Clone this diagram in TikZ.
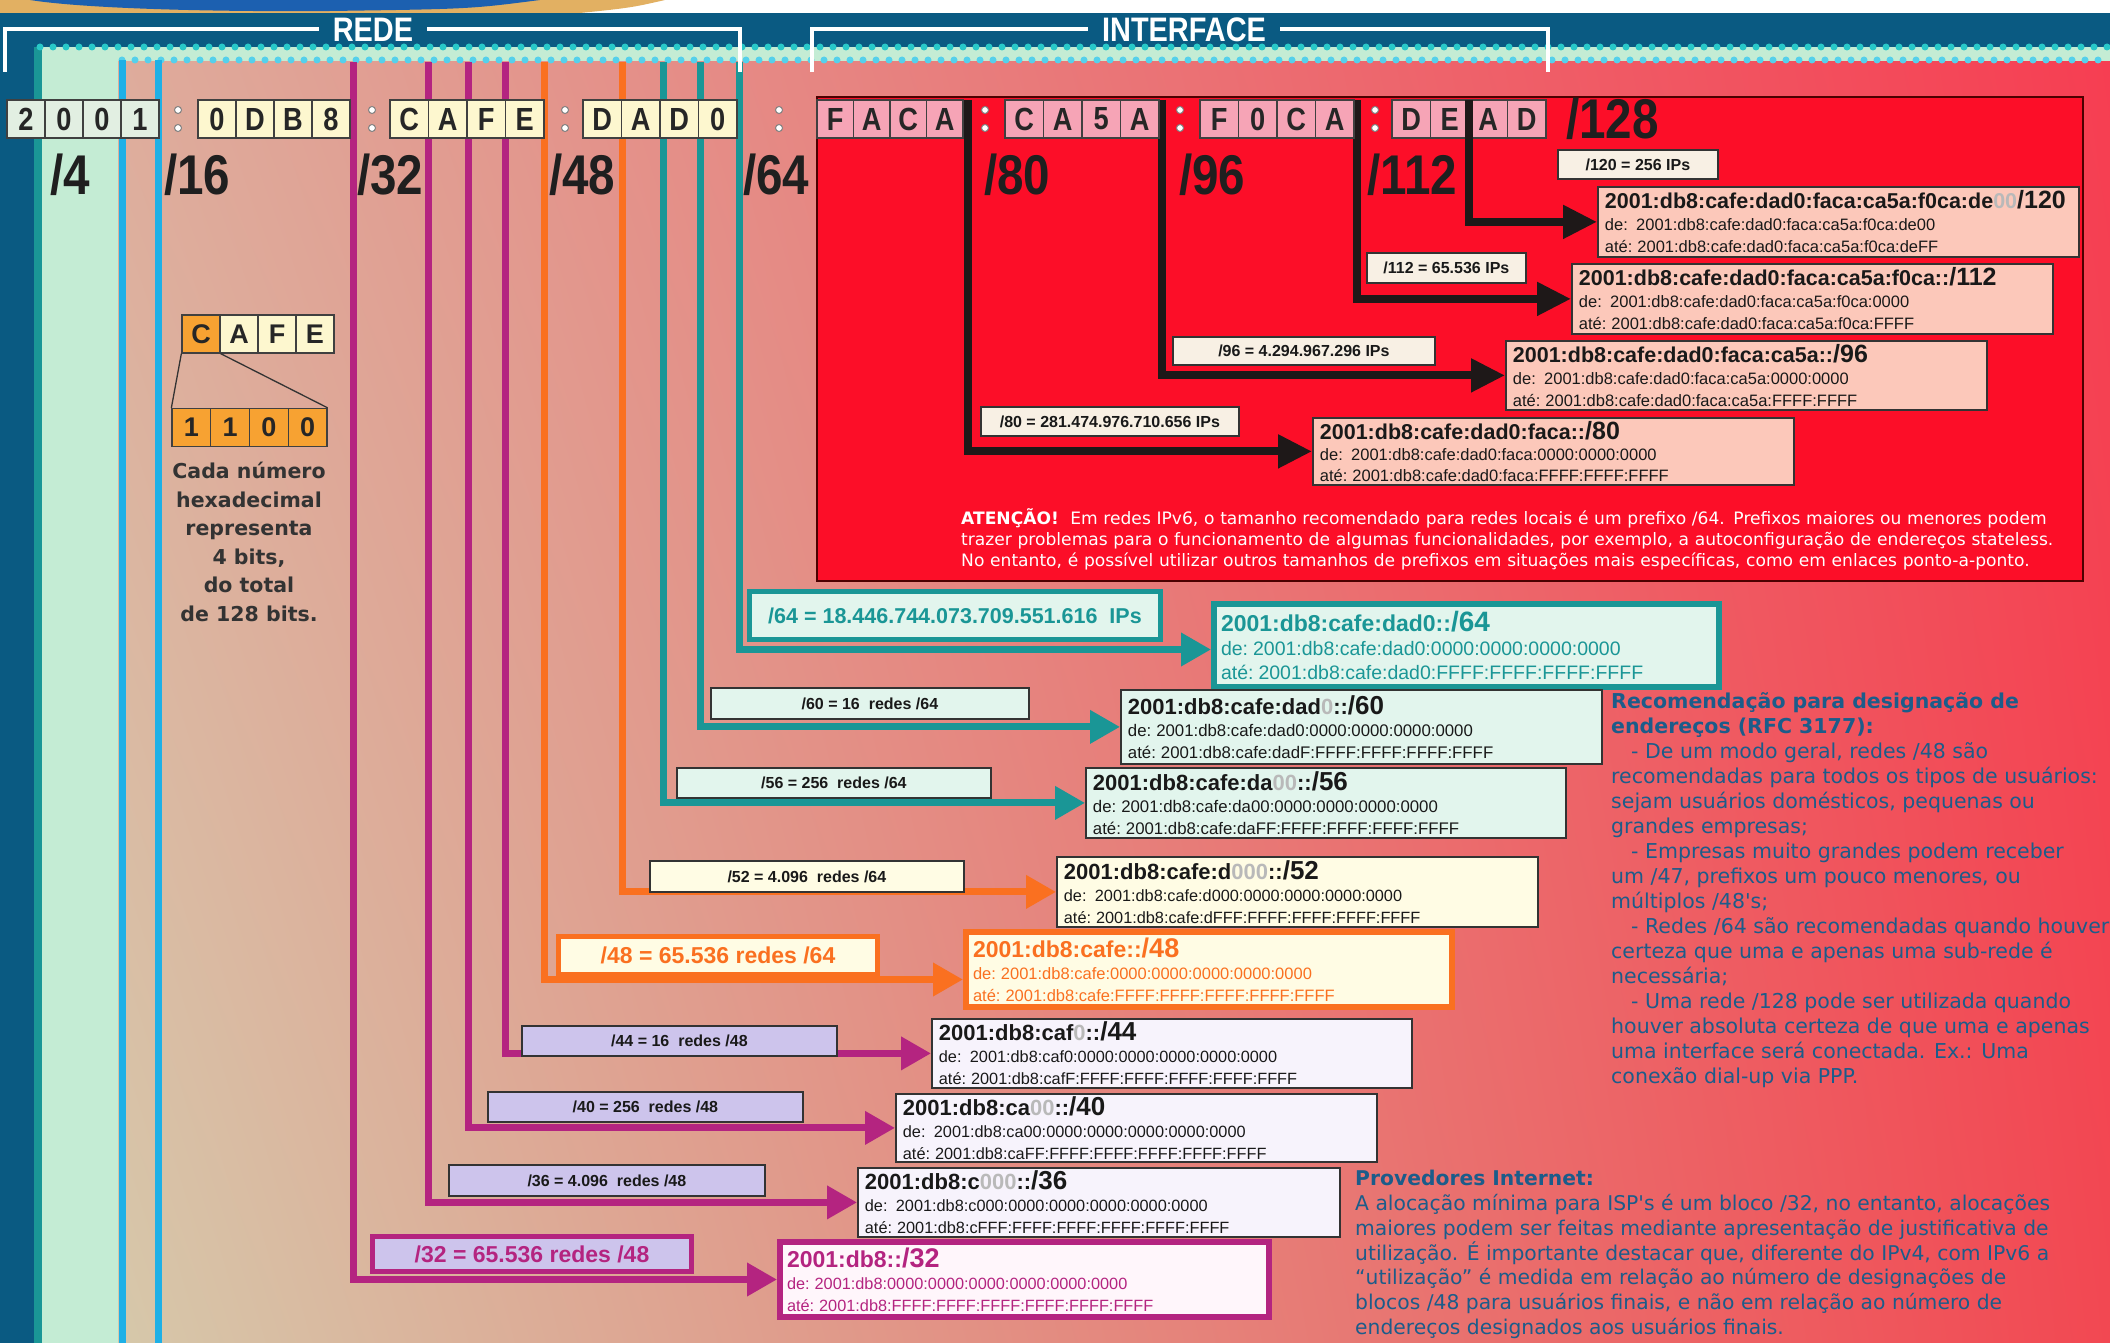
\documentclass[tikz,border=0pt]{standalone}
\usepackage{fontspec}
\setmainfont{Liberation Sans}
\newfontfamily\dv{DejaVu Sans}
\newfontfamily\cnd[FakeStretch=0.85]{Liberation Sans}
\usetikzlibrary{arrows.meta,shadings}
\pgfdeclarelayer{back}
\pgfdeclarelayer{lines}
\pgfsetlayers{back,lines,main}

\definecolor{navyc}{RGB}{10,90,130}
\definecolor{mintc}{RGB}{196,236,212}
\definecolor{dotA}{RGB}{40,200,200}
\definecolor{dotB}{RGB}{85,208,235}
\definecolor{tealE}{RGB}{26,150,150}
\definecolor{cyanc}{RGB}{30,176,230}
\definecolor{magc}{RGB}{180,36,128}
\definecolor{orgc}{RGB}{250,112,32}
\definecolor{tealc}{RGB}{26,150,150}
\definecolor{blkc}{RGB}{30,24,24}
\definecolor{redc}{RGB}{252,14,40}
\definecolor{cellm}{RGB}{226,239,226}
\definecolor{celly}{RGB}{253,247,207}
\definecolor{cellp}{RGB}{246,164,182}
\definecolor{cello}{RGB}{247,162,50}
\definecolor{salc}{RGB}{252,200,186}
\definecolor{creamc}{RGB}{248,240,228}
\definecolor{lgrn}{RGB}{226,245,237}
\definecolor{lyel}{RGB}{255,252,228}
\definecolor{lavc}{RGB}{205,196,236}
\definecolor{lavw}{RGB}{247,243,252}
\definecolor{pinkw}{RGB}{255,246,251}
\definecolor{txtb}{RGB}{28,92,138}
\definecolor{grayd}{RGB}{185,185,185}
\definecolor{tanc}{RGB}{226,176,98}
\definecolor{bluec}{RGB}{28,96,176}
\definecolor{gUL}{RGB}{222,172,156}
\definecolor{gLL}{RGB}{214,200,170}
\definecolor{gUR}{RGB}{246,62,82}
\definecolor{gLR}{RGB}{242,72,82}

\newcommand\gr[1]{\textcolor{grayd}{#1}}
% title size, suffix size, sub size, sub baselineskip, title, suffix, de, ate
\newcommand\Adr[8]{{\fontsize{#1}{#1}\selectfont\bfseries #5{\fontsize{#2}{#2}\selectfont #6}\par}{\fontsize{#3}{#4}\selectfont #7\par #8\par}}

\tikzset{
  hexc/.style={draw=black!75, line width=1.3pt, minimum height=38pt, inner sep=0pt,
    font=\cnd\bfseries\fontsize{32}{32}\selectfont, text=black!85},
  bigl/.style={anchor=west, inner sep=0pt, font=\cnd\bfseries\fontsize{56}{56}\selectfont, text=black!88},
  lab/.style={anchor=north west, draw=black!80, line width=1.8pt, inner sep=0pt,
    font=\bfseries\fontsize{16}{16}\selectfont, text=black!90},
  adr/.style={anchor=north west, draw=black!80, line width=1.8pt, inner xsep=7pt, inner ysep=0pt,
    align=left, text=black!90, execute at begin node={\setlength{\parindent}{0pt}}},
  conn/.style={line width=7pt, -{Triangle[length=30pt,width=32pt]}},
  bconn/.style={line width=8pt, blkc, -{Triangle[length=34pt,width=32pt]}},
  brk/.style={white, line width=4pt},
  dotline/.style={line width=7pt, line cap=round, dash pattern=on 0pt off 13pt},
}

\begin{document}
\begin{tikzpicture}[x=1pt,y=-1pt]
\useasboundingbox (0,0) rectangle (2110,1343);

\begin{pgfonlayer}{back}
  % top art
  \fill[white] (0,0) rectangle (2110,15);
  \fill[tanc] (0,0) -- (665,0) .. controls (630,8) .. (560,15) -- (0,15) -- cycle;
  \fill[bluec] (30,0) -- (540,0) .. controls (470,9) .. (330,11) .. controls (200,12) and (80,8) .. (30,0) -- cycle;
  % navy frame
  \fill[navyc] (0,13) rectangle (2110,1343);
  % mint band and strip
  \fill[mintc] (42,47) rectangle (2110,62);
  \fill[mintc] (42,47) rectangle (118,1343);
  % main gradient
  \shade[upper left=gUL, upper right=gUR, lower left=gLL, lower right=gLR] (118,62) rectangle (2110,1343);
  \draw[tealE, line width=8pt] (38,47) -- (38,1343);
  \draw[dotline, dotA] (40,47) -- (2110,47);
  \draw[dotline, dotB] (122,60) -- (2110,60);
  % red interface area
  \fill[redc] (817,97) rectangle (2083,581);
  \draw[black!70!red, line width=1.5pt] (817,97) rectangle (2083,581);
\end{pgfonlayer}

% brackets
\node[inner sep=0pt, text=white, font=\cnd\bfseries\fontsize{34}{34}\selectfont] (rede) at (373,30) {REDE};
\node[inner sep=0pt, text=white, font=\cnd\bfseries\fontsize{34}{34}\selectfont] (intf) at (1184,30) {INTERFACE};
\draw[brk] ([xshift=-14pt]rede.west |- 0,29) -- (5,29) -- (5,72);
\draw[brk] ([xshift=14pt]rede.east |- 0,29) -- (740,29) -- (740,72);
\draw[brk] ([xshift=-14pt]intf.west |- 0,29) -- (812,29) -- (812,72);
\draw[brk] ([xshift=14pt]intf.east |- 0,29) -- (1548,29) -- (1548,72);

% hex cells
\foreach \g/\x/\w/\fc/\chars in {1/7/38/cellm/{2,0,0,1}, 2/198/38/celly/{0,D,B,8},
   3/390/38.5/celly/{C,A,F,E}, 4/583/38.5/celly/{D,A,D,0}, 5/817/36.5/cellp/{F,A,C,A},
   6/1005/38.5/cellp/{C,A,5,A}, 7/1200/38.5/cellp/{F,0,C,A}, 8/1392/38.5/cellp/{D,E,A,D}}{
  \foreach \c [count=\i from 0] in \chars {
    \node[hexc, fill=\fc, minimum width=\w pt] (h\g\i) at ({\x+\w*\i+\w/2},119) {\c};
  }
}
\foreach \x in {178,372,565,779,985,1180,1375}{
  \filldraw[fill=white, draw=black!50, line width=1pt] (\x,110) circle (3.5pt) (\x,128) circle (3.5pt);
}

% big prefix labels
\node[bigl] (p4) at (50,175) {/4};
\node[bigl] (p16) at (164,175) {/16};
\node[bigl] (p32) at (357,175) {/32};
\node[bigl] (p48) at (549,175) {/48};
\node[bigl] (p64) at (743,175) {/64};
\node[bigl] (p80) at (984,175) {/80};
\node[bigl] (p96) at (1179,175) {/96};
\node[bigl] (p112) at (1367,175) {/112};
\node[bigl, font=\cnd\bfseries\fontsize{56}{56}\selectfont] (p128) at (1566,119) {/128};

% CAFE explanation
\foreach \c [count=\i from 0] in {C,A,F,E}{
  \node[hexc, font=\bfseries\fontsize{27}{27}\selectfont, minimum width=38pt, fill=celly] (cf\i) at ({182+38*\i+19},334) {\c};
}
\node[hexc, font=\bfseries\fontsize{27}{27}\selectfont, minimum width=38pt, fill=cello] (cfC) at (201,334) {C};
\foreach \c [count=\i from 0] in {1,1,0,0}{
  \node[hexc, font=\bfseries\fontsize{27}{27}\selectfont, minimum width=38.75pt, fill=cello] (bt\i) at ({172+38.75*\i+19.4},427.5) {\c};
}
\draw[line width=1.3pt, black!80] (cfC.south west) -- (bt0.north west);
\draw[line width=1.3pt, black!80] (cfC.south east) -- (bt3.north east);
\node[anchor=north, inner sep=0pt, align=center, text=black!80, font=\dv\bfseries\fontsize{20.5}{28.5}\selectfont] (cada) at (249,462)
  {Cada número\\hexadecimal\\representa\\4 bits,\\do total\\de 128 bits.};

% labels in red area
\node[lab, fill=creamc, minimum width=160pt, minimum height=29pt] (l120) at (1557,149) {/120 = 256 IPs};
\node[lab, fill=creamc, minimum width=159pt, minimum height=30pt] (l112) at (1366,252) {/112 = 65.536 IPs};
\node[lab, fill=creamc, minimum width=262pt, minimum height=28pt] (l96) at (1172,336) {/96 = 4.294.967.296 IPs};
\node[lab, fill=creamc, minimum width=258pt, minimum height=29pt] (l80) at (980,406) {/80 = 281.474.976.710.656 IPs};

% address boxes in red area
\node[adr, fill=salc, text width=467pt, minimum height=70pt] (b120) at (1597,186)
 {\Adr{21.5}{25}{16.5}{22}{2001:db8:cafe:dad0:faca:ca5a:f0ca:de\gr{00}}{/120}{de:~ 2001:db8:cafe:dad0:faca:ca5a:f0ca:de00}{até: 2001:db8:cafe:dad0:faca:ca5a:f0ca:deFF}};
\node[adr, fill=salc, text width=467pt, minimum height=70pt] (b112) at (1571,263)
 {\Adr{21.5}{25}{16.5}{22}{2001:db8:cafe:dad0:faca:ca5a:f0ca::}{/112}{de:~ 2001:db8:cafe:dad0:faca:ca5a:f0ca:0000}{até: 2001:db8:cafe:dad0:faca:ca5a:f0ca:FFFF}};
\node[adr, fill=salc, text width=467pt, minimum height=69pt] (b96) at (1505,340)
 {\Adr{21.5}{25}{16.5}{22}{2001:db8:cafe:dad0:faca:ca5a::}{/96}{de:~ 2001:db8:cafe:dad0:faca:ca5a:0000:0000}{até: 2001:db8:cafe:dad0:faca:ca5a:FFFF:FFFF}};
\node[adr, fill=salc, text width=467pt, minimum height=67pt] (b80) at (1312,417)
 {\Adr{21.5}{25}{16.5}{21}{2001:db8:cafe:dad0:faca::}{/80}{de:~ 2001:db8:cafe:dad0:faca:0000:0000:0000}{até: 2001:db8:cafe:dad0:faca:FFFF:FFFF:FFFF}};

\node[anchor=north west, inner sep=0pt, text=white, text width=1115pt, font=\dv\fontsize{17.1}{21}\selectfont,
      execute at begin node={\setlength{\parindent}{0pt}}] (aten) at (961,508)
 {\makebox[1115pt][s]{\textbf{ATENÇÃO!}\ \ Em redes IPv6, o tamanho recomendado para redes locais é um prefixo /64. Prefixos maiores ou menores podem}\par
  \makebox[1115pt][s]{trazer problemas para o funcionamento de algumas funcionalidades, por exemplo, a autoconfiguração de endereços stateless.}\par
  No entanto, é possível utilizar outros tamanhos de prefixos em situações mais específicas, como em enlaces ponto-a-ponto.\par};

% lower labels
\node[lab, fill=lgrn, draw=tealc, line width=5pt, text=tealc, font=\bfseries\fontsize{21.5}{21.5}\selectfont, minimum width=411pt, minimum height=48pt] (l64) at (747,589) {/64 = 18.446.744.073.709.551.616~ IPs};
\node[lab, fill=lgrn, minimum width=318pt, minimum height=31pt] (l60) at (710,687) {/60 = 16~ redes /64};
\node[lab, fill=lgrn, minimum width=314pt, minimum height=30pt] (l56) at (676,767) {/56 = 256~ redes /64};
\node[lab, fill=lyel, minimum width=314pt, minimum height=31pt] (l52) at (649,860) {/52 = 4.096~ redes /64};
\node[lab, fill=lyel, draw=orgc, line width=5pt, text=orgc, font=\bfseries\fontsize{23}{23}\selectfont, minimum width=319pt, minimum height=38pt] (l48) at (556,934) {/48 = 65.536 redes /64};
\node[lab, fill=lavc, minimum width=315pt, minimum height=30pt] (l44) at (521,1025) {/44 = 16~ redes /48};
\node[lab, fill=lavc, minimum width=315pt, minimum height=30pt] (l40) at (487,1091) {/40 = 256~ redes /48};
\node[lab, fill=lavc, minimum width=316pt, minimum height=31pt] (l36) at (448,1164) {/36 = 4.096~ redes /48};
\node[lab, fill=lavc, draw=magc, line width=5pt, text=magc, font=\bfseries\fontsize{23}{23}\selectfont, minimum width=319pt, minimum height=35pt] (l32) at (370,1234) {/32 = 65.536 redes /48};

% lower address boxes
\node[adr, fill=lgrn, draw=tealc, line width=6pt, text=tealc, text width=491pt, minimum height=83pt] (b64) at (1211,601)
 {\Adr{23}{28}{19.5}{24}{2001:db8:cafe:dad0::}{/64}{de: 2001:db8:cafe:dad0:0000:0000:0000:0000}{até: 2001:db8:cafe:dad0:FFFF:FFFF:FFFF:FFFF}};
\node[adr, fill=lgrn, text width=467pt, minimum height=74pt] (b60) at (1120,689)
 {\Adr{22}{26}{16.8}{22}{2001:db8:cafe:dad\gr{0}::}{/60}{de: 2001:db8:cafe:dad0:0000:0000:0000:0000}{até: 2001:db8:cafe:dadF:FFFF:FFFF:FFFF:FFFF}};
\node[adr, fill=lgrn, text width=466pt, minimum height=70pt] (b56) at (1085,767)
 {\Adr{22}{26}{16.8}{22}{2001:db8:cafe:da\gr{00}::}{/56}{de: 2001:db8:cafe:da00:0000:0000:0000:0000}{até: 2001:db8:cafe:daFF:FFFF:FFFF:FFFF:FFFF}};
\node[adr, fill=lyel, text width=467pt, minimum height=70pt] (b52) at (1056,856)
 {\Adr{22}{26}{16.3}{22}{2001:db8:cafe:d\gr{000}::}{/52}{de:~ 2001:db8:cafe:d000:0000:0000:0000:0000}{até: 2001:db8:cafe:dFFF:FFFF:FFFF:FFFF:FFFF}};
\node[adr, fill=lyel, draw=orgc, line width=6pt, text=orgc, text width=472pt, minimum height=75pt] (b48) at (963,929)
 {\Adr{23}{27}{16.5}{22}{2001:db8:cafe::}{/48}{de: 2001:db8:cafe:0000:0000:0000:0000:0000}{até: 2001:db8:cafe:FFFF:FFFF:FFFF:FFFF:FFFF}};
\node[adr, fill=lavw, text width=466pt, minimum height=69pt] (b44) at (931,1018)
 {\Adr{22}{26}{16.3}{22}{2001:db8:caf\gr{0}::}{/44}{de:~ 2001:db8:caf0:0000:0000:0000:0000:0000}{até: 2001:db8:cafF:FFFF:FFFF:FFFF:FFFF:FFFF}};
\node[adr, fill=lavw, text width=467pt, minimum height=68pt] (b40) at (895,1093)
 {\Adr{22}{26}{16.3}{22}{2001:db8:ca\gr{00}::}{/40}{de:~ 2001:db8:ca00:0000:0000:0000:0000:0000}{até: 2001:db8:caFF:FFFF:FFFF:FFFF:FFFF:FFFF}};
\node[adr, fill=lavw, text width=468pt, minimum height=69pt] (b36) at (857,1167)
 {\Adr{22}{26}{16.3}{22}{2001:db8:c\gr{000}::}{/36}{de:~ 2001:db8:c000:0000:0000:0000:0000:0000}{até: 2001:db8:cFFF:FFFF:FFFF:FFFF:FFFF:FFFF}};
\node[adr, fill=pinkw, draw=magc, line width=6pt, text=magc, text width=475pt, minimum height=75pt] (b32) at (777,1239)
 {\Adr{23}{27}{16.3}{22}{2001:db8::}{/32}{de: 2001:db8:0000:0000:0000:0000:0000:0000}{até: 2001:db8:FFFF:FFFF:FFFF:FFFF:FFFF:FFFF}};

% right column texts
\node[anchor=north west, inner sep=0pt, text=txtb, align=left, font=\dv\fontsize{20.5}{25}\selectfont] (rec) at (1611,692)
 {{\bfseries Recomendação para designação de}\\
  {\bfseries endereços (RFC 3177):}\\
  \hspace*{20pt}- De um modo geral, redes /48 são\\
  recomendadas para todos os tipos de usuários:\\
  sejam usuários domésticos, pequenas ou\\
  grandes empresas;\\
  \hspace*{20pt}- Empresas muito grandes podem receber\\
  um /47, prefixos um pouco menores, ou\\
  múltiplos /48's;\\
  \hspace*{20pt}- Redes /64 são recomendadas quando houver\\
  certeza que uma e apenas uma sub-rede é\\
  necessária;\\
  \hspace*{20pt}- Uma rede /128 pode ser utilizada quando\\
  houver absoluta certeza de que uma e apenas\\
  uma interface será conectada. Ex.: Uma\\
  conexão dial-up via PPP.};
\node[anchor=north west, inner sep=0pt, text=txtb, align=left, font=\dv\fontsize{20.3}{24.8}\selectfont] (prov) at (1355,1170)
 {{\bfseries Provedores Internet:}\\
  A alocação mínima para ISP's é um bloco /32, no entanto, alocações\\
  maiores podem ser feitas mediante apresentação de justificativa de\\
  utilização. É importante destacar que, diferente do IPv4, com IPv6 a\\
  “utilização” é medida em relação ao número de designações de\\
  blocos /48 para usuários finais, e não em relação ao número de\\
  endereços designados aos usuários finais.};

% connectors
\begin{pgfonlayer}{lines}
  \draw[cyanc, line width=7pt] (122,60) -- (122,1343);
  \draw[cyanc, line width=7pt] (158,60) -- (158,1343);
  \coordinate (v32) at (353,62);
  \coordinate (v36) at (428,62);
  \coordinate (v40) at (468,62);
  \coordinate (v44) at (505,62);
  \coordinate (v48) at (544,62);
  \coordinate (v52) at (622,62);
  \coordinate (v56) at (663,62);
  \coordinate (v60) at (700,62);
  \coordinate (v64) at (739,62);
  \draw[conn, magc] (v32) |- (b32.west);
  \draw[conn, magc] (v36) |- (b36.west);
  \draw[conn, magc] (v40) |- (b40.west);
  \draw[conn, magc] (v44) |- (b44.west);
  \draw[conn, orgc] (v48) |- ([yshift=-10pt]b48.west);
  \draw[conn, orgc] (v52) |- (b52.west);
  \draw[conn, tealc] (v56) |- (b56.west);
  \draw[conn, tealc] (v60) |- (b60.west);
  \draw[conn, tealc] (v64) |- ([yshift=-4pt]b64.west);
  \coordinate (k80) at (968,100);
  \coordinate (k96) at (1162,100);
  \coordinate (k112) at (1357,100);
  \coordinate (k120) at (1469,100);
  \draw[bconn] (k80) |- (b80.west);
  \draw[bconn] (k96) |- (b96.west);
  \draw[bconn] (k112) |- (b112.west);
  \draw[bconn] (k120) |- (b120.west);
\end{pgfonlayer}
\draw[blkc, line width=8pt] (k120) -- (1469,140);
\end{tikzpicture}
\end{document}
